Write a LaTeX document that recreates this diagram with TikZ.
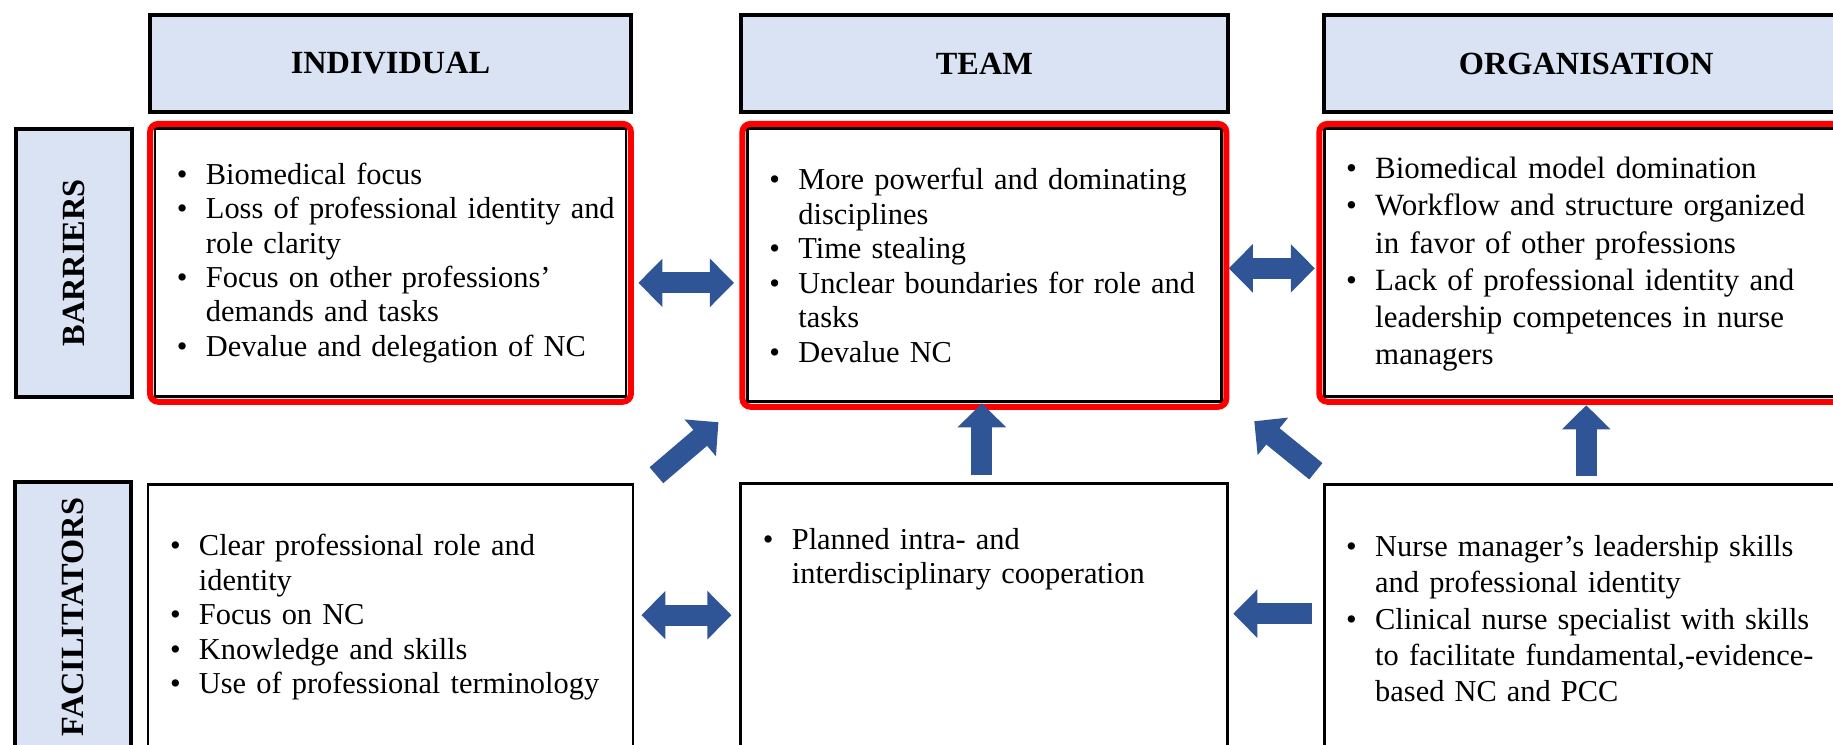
\documentclass[tikz,border=0pt]{standalone}
\usepackage{fontspec}
\setmainfont{Liberation Serif}
\usepackage{xcolor}
\usepackage{tikz}
\usetikzlibrary{arrows.meta, positioning, fit}

\definecolor{headblue}{HTML}{DAE3F3}
\definecolor{arrowblue}{RGB}{47,85,151}
\definecolor{framered}{RGB}{255,0,0}

\newcommand{\bitem}[1]{\par\noindent\makebox[2.9mm][l]{\textbullet}\mbox{#1}}
\newcommand{\bmore}[1]{\par\noindent\hspace*{2.9mm}\mbox{#1}}
\newcommand{\cellpad}{\par\vspace{1.3mm}}

\begin{document}
\begin{tikzpicture}[
    x=1mm, y=1mm,
    colhead/.style={rectangle, draw=black, fill=headblue, line width=1.1pt, minimum height=9.7mm, font=\fontsize{9.2}{11}\selectfont\bfseries},
    rowhead/.style={rectangle, draw=black, fill=headblue, line width=1.1pt, minimum width=11.6mm, inner sep=0pt, font=\fontsize{9.2}{11}\selectfont\bfseries},
    cellbox/.style={rectangle, draw=black, thick, fill=white, inner xsep=2.2mm, inner ysep=1mm, align=left, font=\fontsize{8.65}{9.8}\selectfont, execute at end node=\cellpad},
    barframe/.style={draw=framered, line width=0.6mm, rounded corners=0.8mm, inner sep=0.35mm},
    blockarrow/.style={-{Triangle[length=2.4mm, width=4.7mm]}, line width=2.1mm, draw=arrowblue},
    dblarrow/.style={{Triangle[length=2.4mm, width=4.7mm]}-{Triangle[length=2.4mm, width=4.7mm]}, line width=2.1mm, draw=arrowblue}
]
\path[use as bounding box] (0,0) rectangle (183.3,74.4);
\clip (0,0) rectangle (183.3,74.4);

% column heads
\node (hind) [colhead, minimum width=48.1mm] at (39.05,68.05) {INDIVIDUAL};
\node (hteam) [colhead, minimum width=48.7mm, right=10.6mm of hind] {TEAM};
\node (horg) [colhead, minimum width=52.4mm, right=9.25mm of hteam] {ORGANISATION};

% barriers
\node (barind) [cellbox, minimum width=47.1mm, text width=42.7mm, minimum height=26.8mm, below=1.35mm of hind] {%
  \bitem{Biomedical focus}
  \bitem{Loss of professional identity and}
  \bmore{role clarity}
  \bitem{Focus on other professions’}
  \bmore{demands and tasks}
  \bitem{Devalue and delegation of NC}};
\node (barteam) [cellbox, minimum width=47.4mm, text width=43mm, minimum height=27.3mm, below=1.35mm of hteam] {%
  \bitem{More powerful and dominating}
  \bmore{disciplines}
  \bitem{Time stealing}
  \bitem{Unclear boundaries for role and}
  \bmore{tasks}
  \bitem{Devalue NC}};
\node (barorg) [cellbox, minimum width=52.4mm, text width=48mm, minimum height=26.8mm, font=\fontsize{8.8}{10.6}\selectfont, below=1.35mm of horg] {%
  \bitem{Biomedical model domination}
  \bitem{Workflow and structure organized}
  \bmore{in favor of other professions}
  \bitem{Lack of professional identity and}
  \bmore{leadership competences in nurse}
  \bmore{managers}};
\node (redind) [barframe, fit=(barind)] {};
\node (redteam) [barframe, fit=(barteam)] {};
\node (redorg) [barframe, fit=(barorg)] {};

% facilitators
\node (facind) [cellbox, minimum width=48.5mm, text width=44.1mm, minimum height=26.5mm, below=8.5mm of barind] {%
  \bitem{Clear professional role and}
  \bmore{identity}
  \bitem{Focus on NC}
  \bitem{Knowledge and skills}
  \bitem{Use of professional terminology}};
\node (facteam) [cellbox, minimum width=48.7mm, text width=44.3mm, inner ysep=3.1mm, text depth=22mm, below=7.9mm of barteam] {%
  \bitem{Planned intra- and}
  \bmore{interdisciplinary cooperation}};
\node (facorg) [cellbox, minimum width=52.4mm, text width=48mm, minimum height=26.6mm, font=\fontsize{8.65}{10.35}\selectfont, below=8.5mm of barorg] {%
  \bitem{Nurse manager’s leadership skills}
  \bmore{and professional identity}
  \bitem{Clinical nurse specialist with skills}
  \bmore{to facilitate fundamental,-evidence-}
  \bmore{based NC and PCC}};

% row heads
\node (sidebar) [rowhead, minimum height=26.8mm, left=2.0mm of barind] {\rotatebox{90}{BARRIERS}};
\node (sidefac) [rowhead, minimum height=27.1mm, left=1.4mm of facind] {\rotatebox{90}{FACILITATORS}};

% block arrows
\draw [dblarrow, shorten <=1.1mm, shorten >=1.2mm] ([yshift=-2.0mm]barind.east) -- ([yshift=-1.75mm]barteam.west);
\draw [dblarrow, shorten <=0.6mm, shorten >=0.8mm] ([yshift=-0.3mm]barteam.east) -- ([yshift=-0.55mm]barorg.west);
\draw [dblarrow, shorten <=0.7mm, shorten >=0.8mm] ([yshift=0.2mm]facind.east) -- ([yshift=0.2mm]facind.east -| facteam.west);
\draw [blockarrow, shorten <=1.1mm, shorten >=0.4mm] ([yshift=0.4mm]facorg.west) -- ([yshift=0.4mm]facorg.west -| facteam.east);
\draw [blockarrow, shorten <=0.7mm] ([xshift=-0.25mm]facteam.north) -- ([xshift=-0.25mm]barteam.south);
\draw [blockarrow, shorten <=0.7mm, shorten >=0.7mm] (facorg.north) -- (barorg.south);
\draw [blockarrow] ([shift={(2.2mm,0.8mm)}]facind.north east) -- ([shift={(-2.75mm,-1.9mm)}]barteam.south west);
\draw [blockarrow] ([shift={(-0.7mm,1.2mm)}]facorg.north west) -- ([shift={(3.15mm,-1.8mm)}]barteam.south east);
\end{tikzpicture}
\end{document}
